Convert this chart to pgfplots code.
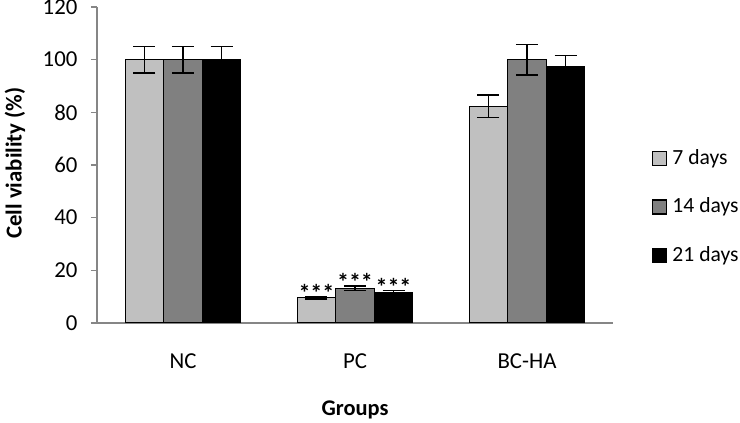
\documentclass[border=0pt]{standalone}
\usepackage{fontspec}
\setmainfont{Carlito}
\usepackage{pgfplots}
\pgfplotsset{compat=1.18}
\definecolor{barlight}{RGB}{192,192,192}
\definecolor{barmid}{RGB}{128,128,128}
\definecolor{axisgray}{RGB}{134,134,134}
\begin{document}
\fontsize{10.8}{13}\selectfont
\begin{tikzpicture}
% picture frame: 740x423 px at 0.5pt/px, axis corner at px (97,323)
\path[use as bounding box] (-48.5pt,-50pt) rectangle (321.5pt,161.5pt);
\begin{axis}[
    at={(0pt,0pt)}, anchor=south west,
    scale only axis,
    width=258pt, height=158pt,
    ybar, bar width=0.224,
    xmin=-0.5, xmax=2.5,
    ymin=0, ymax=120,
    ytick={0,20,...,120},
    xtick={0,1,2},
    xticklabels={NC,PC,BC-HA},
    major x tick style={draw=none},
    extra x ticks={-0.5,0.5,1.5,2.5},
    extra x tick labels={},
    extra x tick style={major tick length=5pt, tick style={axisgray, line width=0.6pt}, tick align=outside},
    axis x line*=bottom, axis y line*=left,
    axis line style={axisgray, line width=0.7pt},
    y tick style={axisgray, line width=0.6pt},
    tick align=outside, major tick length=3pt,
    xticklabel style={yshift=-8.5pt},
    yticklabel style={xshift=-3pt},
    /pgf/number format/assume math mode=true,
    tick label style={font=\fontsize{11.4}{13}\selectfont},
    xlabel={\textbf{Groups}},
    xlabel style={at={(axis description cs:0.5,-0.275)}, anchor=center,
        font=\fontsize{11.2}{13}\selectfont},
    ylabel={\textbf{Cell viability (\%)}},
    ylabel style={at={(axis description cs:-0.159,0.506)}, anchor=center,
        font=\fontsize{11.4}{13}\selectfont},
    legend style={draw=none, fill=none, inner sep=0pt,
        at={(axis description cs:1.075,0.367)}, anchor=west,
        row sep=11pt, legend cell align=left,
        font=\fontsize{10.8}{13}\selectfont,
        /tikz/every node/.append style={inner xsep=2.5pt}},
    legend image code/.code={\draw[#1, draw=black, line width=0.7pt] (0pt,-3.5pt) rectangle (7pt,3.5pt);},
    error bars/y dir=both, error bars/y explicit,
    error bars/error bar style={black, line width=0.8pt},
    error bars/error mark options={rotate=90, mark size=5.5pt, line width=0.8pt, black},
    stars/.style={draw=none, fill=none, forget plot,
        nodes near coords={\textbf{***}},
        every node near coord/.append style={anchor=south, inner sep=0pt, yshift=-2.5pt,
            font=\fontsize{12}{14}\selectfont}},
]
\addplot[fill=barlight, draw=black, line width=0.7pt, bar shift=-0.224]
  coordinates {(0,100) +- (0,5) (1,9.6) +- (0,0.5) (2,82.3) +- (0,4.2)};
\addlegendentry{7 days}
\addplot[fill=barmid, draw=black, line width=0.7pt, bar shift=0]
  coordinates {(0,100) +- (0,5) (1,13.2) +- (0,0.9) (2,100) +- (0,5.8)};
\addlegendentry{14 days}
\addplot[fill=black, draw=black, line width=0.7pt, bar shift=0.224]
  coordinates {(0,100) +- (0,5) (1,11.6) +- (0,0.7) (2,97.4) +- (0,4.2)};
\addlegendentry{21 days}
% significance marks above PC bars
\addplot[stars, bar shift=-0.224] coordinates {(1,10.1)};
\addplot[stars, bar shift=0] coordinates {(1,14.1)};
\addplot[stars, bar shift=0.224] coordinates {(1,12.3)};
\end{axis}
\end{tikzpicture}
\end{document}
